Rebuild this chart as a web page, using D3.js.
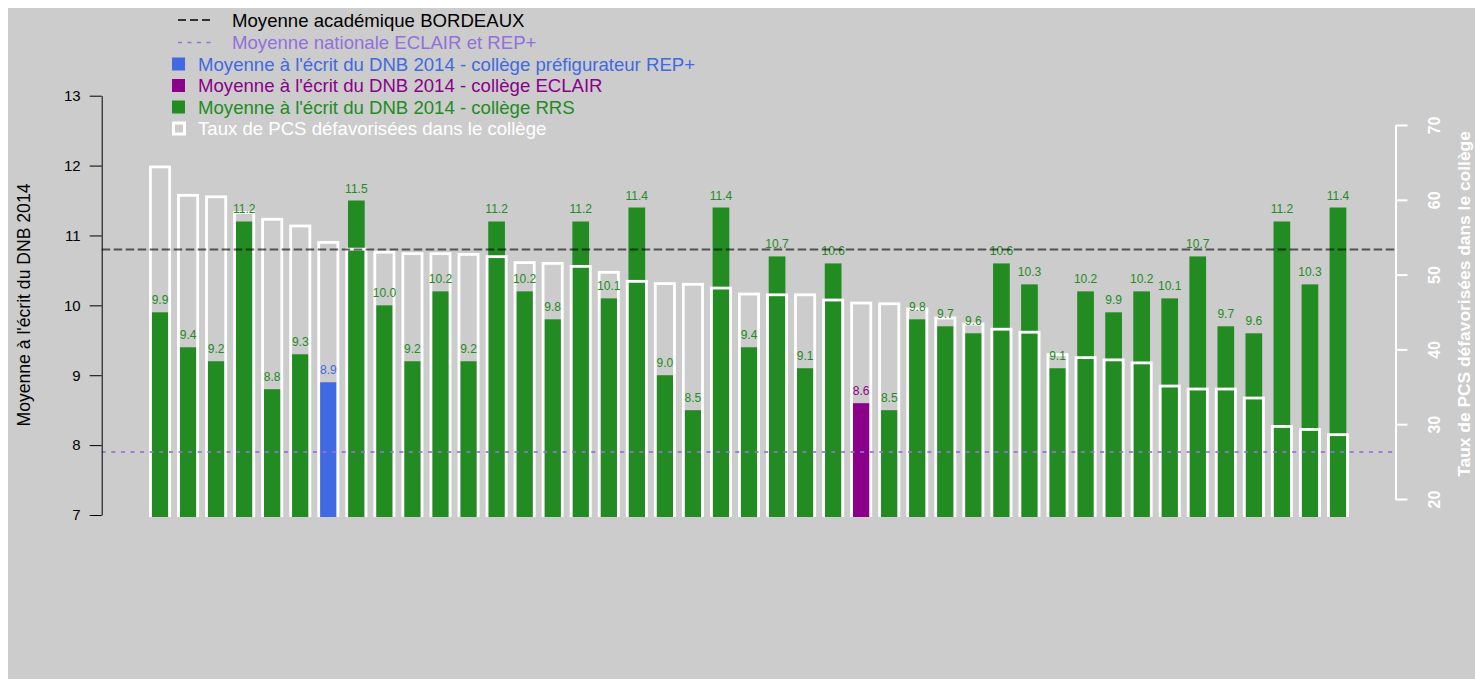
<!DOCTYPE html>
<html>
<head>
<meta charset="utf-8">
<script src="https://cdn.jsdelivr.net/npm/d3@7"></script>
<style>
  html, body { margin: 0; padding: 0; background: #fff; }
  svg { display: block; font-family: 'Liberation Sans', Arial, sans-serif; }
</style>
</head>
<body>
<div id="graph"></div>
<script>
'use strict'

// moyenne a l'ecrit du DNB 2014, one value per college
const dnbValues = [9.9, 9.4, 9.2, 11.2, 8.8, 9.3, 8.9, 11.5, 10.0, 9.2, 10.2, 9.2, 11.2, 10.2, 9.8,
  11.2, 10.1, 11.4, 9.0, 8.5, 11.4, 9.4, 10.7, 9.1, 10.6, 8.6, 8.5, 9.8, 9.7, 9.6, 10.6, 10.3,
  9.1, 10.2, 9.9, 10.2, 10.1, 10.7, 9.7, 9.6, 11.2, 10.3, 11.4]
// taux de PCS defavorisees (%)
const pcsValues = [64.4, 60.6, 60.4, 58.3, 57.4, 56.5, 54.3, 53.4, 53.0, 52.8, 52.8, 52.7, 52.4,
  51.6, 51.5, 51.1, 50.3, 49.1, 48.8, 48.7, 48.2, 47.4, 47.3, 47.3, 46.6, 46.2, 46.1, 45.4, 44.2,
  43.4, 42.7, 42.3, 39.3, 38.9, 38.6, 38.2, 35.1, 34.7, 34.7, 33.5, 29.7, 29.3, 28.6]
// type de college
const collegeTypes = dnbValues.map((d, i) => i === 6 ? 'REP+' : i === 25 ? 'ECLAIR' : 'RRS')
const academicMean = 10.8
const nationalMean = 7.9
const leftTicks = [7, 8, 9, 10, 11, 12, 13]
const rightTicks = [20, 30, 40, 50, 60, 70]
const legendLabels = [
  'Moyenne académique BORDEAUX',
  'Moyenne nationale ECLAIR et REP+',
  "Moyenne à l'écrit du DNB 2014 - collège préfigurateur REP+",
  "Moyenne à l'écrit du DNB 2014 - collège ECLAIR",
  "Moyenne à l'écrit du DNB 2014 - collège RRS",
  'Taux de PCS défavorisées dans le collège'
]

const typeColor = { 'REP+': 'royalblue', 'ECLAIR': 'darkmagenta', 'RRS': 'forestgreen' }

let cw = 1475,
  ch = 679,
  svg = d3.select('#graph').append('svg')
    .attr('width', cw)
    .attr('height', ch)

svg.append('rect')
  .attr('x', 8).attr('y', 8)
  .attr('width', cw - 8).attr('height', ch - 8)
  .attr('fill', '#cccccc')

let x = d3.scaleBand()
  .domain(d3.range(dnbValues.length))
  .range([146, 1352])
let y = d3.scaleLinear()
  .domain([7, 13])
  .range([515, 95.7])
let yR = d3.scaleLinear()
  .domain([20, 70])
  .range([499, 125])

let greenW = 16.7, whiteW = 19.2, plotBottom = 517

svg.append('clipPath').attr('id', 'plot-clip')
  .append('rect')
  .attr('x', 100).attr('y', 0)
  .attr('width', 1300).attr('height', plotBottom)

let plot = svg.append('g').attr('clip-path', 'url(#plot-clip)')
let cx = i => x(i) + x.bandwidth() / 2

// DNB bars
plot.selectAll('rect.dnb')
  .data(dnbValues)
  .enter().append('rect')
  .attr('class', 'dnb')
  .attr('x', (d, i) => cx(i) - greenW / 2)
  .attr('y', d => y(d))
  .attr('width', greenW)
  .attr('height', d => plotBottom + 5 - y(d))
  .attr('fill', (d, i) => typeColor[collegeTypes[i]])

// value labels
svg.selectAll('text.val')
  .data(dnbValues)
  .enter().append('text')
  .attr('class', 'val')
  .attr('x', (d, i) => cx(i))
  .attr('y', d => y(d) - 8)
  .attr('text-anchor', 'middle')
  .attr('font-size', 12)
  .attr('fill', (d, i) => typeColor[collegeTypes[i]])
  .text(d => d.toFixed(1))

// reference lines
svg.append('line')
  .attr('x1', 101.7).attr('x2', 1395)
  .attr('y1', y(academicMean)).attr('y2', y(academicMean))
  .attr('stroke', '#000').attr('stroke-opacity', 0.6)
  .attr('stroke-width', 2)
  .attr('stroke-dasharray', '8.5,3.5')
svg.append('line')
  .attr('x1', 101.7).attr('x2', 1395)
  .attr('y1', y(nationalMean)).attr('y2', y(nationalMean))
  .attr('stroke', 'mediumpurple').attr('stroke-opacity', 0.85)
  .attr('stroke-width', 2)
  .attr('stroke-dasharray', '4,5.6')

// PCS bars (outlines)
plot.selectAll('rect.pcs')
  .data(pcsValues)
  .enter().append('rect')
  .attr('class', 'pcs')
  .attr('x', (d, i) => cx(i) - whiteW / 2)
  .attr('y', d => yR(d))
  .attr('width', whiteW)
  .attr('height', d => plotBottom + 10 - yR(d))
  .attr('fill', 'none')
  .attr('stroke', '#fff')
  .attr('stroke-width', 2.8)

// left axis
let gl = svg.append('g')
  .attr('class', 'y-axis')
  .attr('transform', 'translate(101.7, 0)')
  .call(d3.axisLeft(y).tickValues(leftTicks).tickFormat(d3.format('d'))
    .tickSize(12).tickSizeOuter(0).tickPadding(9))
gl.selectAll('text').attr('font-size', 15).attr('font-family', null).attr('fill', '#000')
gl.select('.domain').attr('stroke', '#000')

svg.append('text')
  .attr('transform', 'translate(30, 305) rotate(-90)')
  .attr('text-anchor', 'middle')
  .attr('font-size', 17.6)
  .attr('fill', '#000')
  .text("Moyenne à l'écrit du DNB 2014")

// right axis
let gr = svg.append('g')
  .attr('class', 'y2-axis')
  .attr('transform', 'translate(1395.5, 0)')
  .call(d3.axisRight(yR).tickValues(rightTicks).tickFormat(d3.format('d'))
    .tickSize(12).tickSizeOuter(0))
gr.attr('font-size', 16)
gr.selectAll('line').attr('stroke', '#fff').attr('stroke-width', 2)
gr.select('.domain').attr('stroke', '#fff').attr('stroke-width', 2)
gr.selectAll('text')
  .attr('x', 0).attr('dy', 0)
  .attr('transform', 'translate(44, 0) rotate(-90)')
  .attr('text-anchor', 'middle')
  .attr('font-size', 16)
  .attr('font-weight', 'bold')
  .attr('font-family', null)
  .attr('fill', '#fff')

svg.append('text')
  .attr('transform', 'translate(1470, 304) rotate(-90)')
  .attr('text-anchor', 'middle')
  .attr('font-size', 17.4)
  .attr('font-weight', 'bold')
  .attr('fill', '#fff')
  .text('Taux de PCS défavorisées dans le collège')

// legend
let legendRows = [20, 42.5, 64, 85.5, 107, 128.5]
let legendColors = ['#000', 'mediumpurple', 'royalblue', 'darkmagenta', 'forestgreen', '#fff']
let legend = svg.append('g').attr('class', 'legend')

legendLabels.forEach((label, i) => {
  let ly = legendRows[i]
  if (i < 2) {
    legend.append('line')
      .attr('x1', 178).attr('x2', 212)
      .attr('y1', ly).attr('y2', ly)
      .attr('stroke', legendColors[i])
      .attr('stroke-width', 1.6)
      .attr('stroke-dasharray', i === 0 ? '8,4' : '4,5.5')
  } else if (i < 5) {
    legend.append('rect')
      .attr('x', 172).attr('y', ly - 6.5)
      .attr('width', 13).attr('height', 13)
      .attr('fill', legendColors[i])
  } else {
    legend.append('rect')
      .attr('x', 173.5).attr('y', ly - 5.5)
      .attr('width', 11).attr('height', 11)
      .attr('fill', 'none')
      .attr('stroke', '#fff')
      .attr('stroke-width', 3)
  }
  legend.append('text')
    .attr('x', i < 2 ? 232 : 198)
    .attr('y', ly)
    .attr('dy', '0.35em')
    .attr('font-size', 18.6)
    .attr('fill', legendColors[i])
    .text(label)
})
</script>
</body>
</html>
